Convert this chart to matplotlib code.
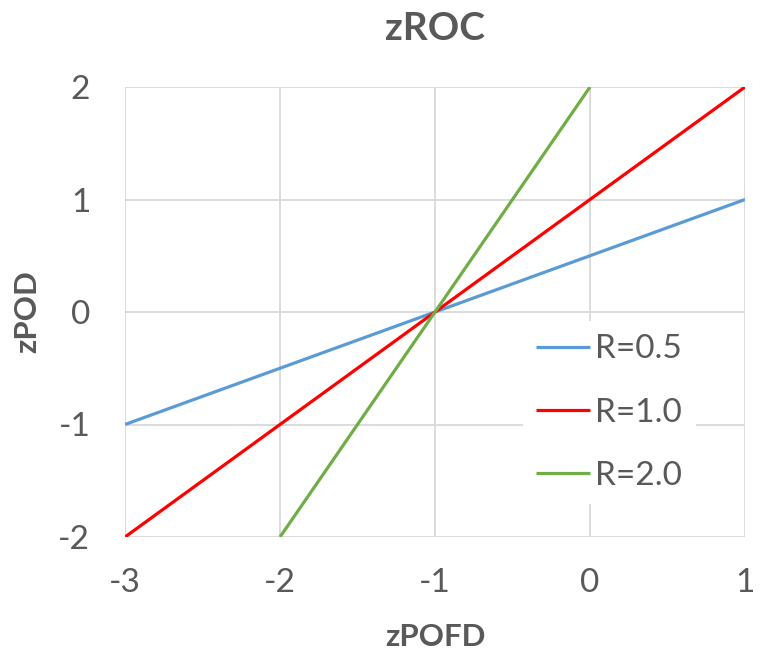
import matplotlib
matplotlib.use("Agg")
import matplotlib.pyplot as plt

plt.rcParams['font.family'] = ['Lato', 'DejaVu Sans']
plt.rcParams['axes.unicode_minus'] = False

labels = ["R=0.5", "R=1.0", "R=2.0"]
x_r05 = [-3, -2, -1, 0, 1]
y_r05 = [-1, -0.5, 0, 0.5, 1]
x_r10 = [-3, -2, -1, 0, 1]
y_r10 = [-2, -1, 0, 1, 2]
x_r20 = [-2, -1.5, -1, -0.5, 0]
y_r20 = [-2, -1, 0, 1, 2]
colors = ["#5B9BD5", "#FF0000", "#70AD47"]
xticks = [-3, -2, -1, 0, 1]
yticks = [-2, -1, 0, 1, 2]

fig = plt.figure(figsize=(7.65, 6.54), dpi=100)
ax = fig.add_axes([125/765, 1-537/654, 620/765, 450/654])

for xs, ys, c, l in zip([x_r05, x_r10, x_r20], [y_r05, y_r10, y_r20], colors, labels):
    ax.plot(xs, ys, color=c, lw=2.3, label=l, solid_capstyle='butt', zorder=3)

ax.set_xlim(-3, 1)
ax.set_ylim(-2, 2)
ax.set_xticks(xticks)
ax.set_yticks(yticks)
ax.grid(True, color="#D9D9D9", lw=1.3, zorder=0)
for s in ax.spines.values():
    s.set_visible(False)
ax.tick_params(length=0, labelsize=24, colors="#595959")
ax.tick_params(axis='x', pad=22)
ax.tick_params(axis='y', pad=25)
ax.set_title("zROC", fontsize=28, fontweight='bold', color="#595959", pad=34)
ax.set_xlabel("zPOFD", fontsize=22.5, fontweight='bold', color="#595959", labelpad=18)
ax.set_ylabel("zPOD", fontsize=22.5, fontweight='bold', color="#595959", labelpad=12)

leg = ax.legend(loc='upper left', bbox_to_anchor=(0.642, 0.48), borderaxespad=0,
                frameon=True, fontsize=24,
                handlelength=1.62, labelspacing=1.0, borderpad=0.4, handletextpad=0.15,
                fancybox=False, edgecolor='white', framealpha=1)
for t in leg.get_texts():
    t.set_color("#595959")
leg.get_frame().set_linewidth(0)

fig.savefig("out.png", dpi=100)
